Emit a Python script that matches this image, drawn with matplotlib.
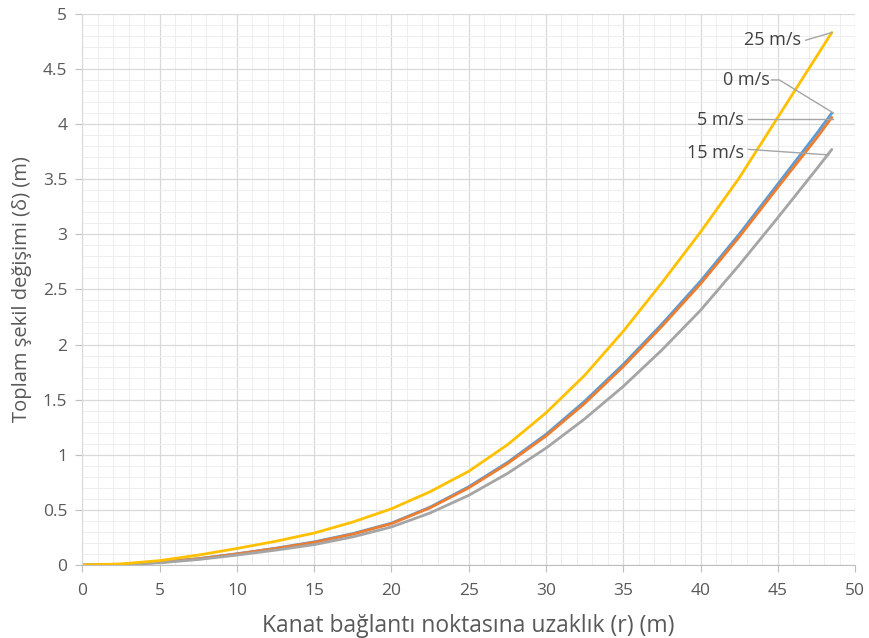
import matplotlib
matplotlib.use("Agg")
import matplotlib.pyplot as plt
from matplotlib.ticker import MultipleLocator, FuncFormatter

plt.rcParams['font.family'] = ['Open Sans', 'DejaVu Sans']

# Distance from blade root (m)
r = [0, 2.5, 5, 7.5, 10, 12.5, 15, 17.5, 20, 22.5, 25, 27.5, 30, 32.5,
     35, 37.5, 40, 42.5, 45, 47.5, 48.5]

# Total deflection (m) for each wind speed
d_0 = [0, 0.005, 0.025, 0.058, 0.102, 0.152, 0.21, 0.285, 0.38, 0.525, 0.71,
       0.93, 1.185, 1.485, 1.82, 2.185, 2.575, 3.0, 3.455, 3.91, 4.10]
d_5 = [0, 0.005, 0.024, 0.056, 0.10, 0.15, 0.205, 0.28, 0.375, 0.519, 0.70,
       0.919, 1.17, 1.465, 1.80, 2.165, 2.55, 2.975, 3.425, 3.87, 4.06]
d_15 = [0, 0.004, 0.02, 0.05, 0.09, 0.135, 0.185, 0.255, 0.345, 0.472, 0.632,
        0.83, 1.06, 1.325, 1.62, 1.95, 2.31, 2.72, 3.15, 3.59, 3.77]
d_25 = [0, 0.01, 0.04, 0.09, 0.15, 0.215, 0.29, 0.39, 0.51, 0.665, 0.85,
        1.09, 1.38, 1.72, 2.12, 2.56, 3.02, 3.51, 4.06, 4.61, 4.83]

labels = ["0 m/s", "5 m/s", "15 m/s", "25 m/s"]
colors = ["#5b9bd5", "#ed7d31", "#a5a5a5", "#ffc000"]
series = [d_0, d_5, d_15, d_25]

fig = plt.figure(figsize=(8.69, 6.38), dpi=100)
ax = fig.add_axes([0.0949, 0.1144, 0.889, 0.864])

for ys, c in zip(series, colors):
    ax.plot(r, ys, color=c, lw=2.0, solid_capstyle='round')

ax.set_xlim(0, 50)
ax.set_ylim(0, 5)
ax.xaxis.set_major_locator(MultipleLocator(5))
ax.xaxis.set_minor_locator(MultipleLocator(1))
ax.yaxis.set_major_locator(MultipleLocator(0.5))
ax.yaxis.set_minor_locator(MultipleLocator(0.1))
ax.yaxis.set_major_formatter(FuncFormatter(lambda v, p: f"{v:g}"))

ax.grid(which='major', color='#d9d9d9', lw=0.9)
ax.grid(which='minor', color='#eeeeee', lw=0.7)
ax.set_axisbelow(True)

for s in ['top', 'right']:
    ax.spines[s].set_visible(False)
ax.spines['left'].set_color('#d9d9d9')
ax.spines['bottom'].set_color('#bfbfbf')

ax.tick_params(which='major', length=5, color='#bfbfbf', labelsize=12.5,
               labelcolor='#595959')
ax.tick_params(axis='x', pad=8)
ax.tick_params(axis='y', pad=6)
ax.tick_params(which='minor', length=0)

ax.set_xlabel("Kanat bağlantı noktasına uzaklık (r) (m)", fontsize=16.5,
              color='#595959', labelpad=11)
ax.set_ylabel("Toplam şekil değişimi (δ) (m)", fontsize=14.5,
              color='#595959', labelpad=8)

# Series labels with leader lines to the blade tip
lead = dict(color='#a5a5a5', lw=1.0)
tk = dict(fontsize=13, color='#404040', va='center', ha='right')

ax.text(46.5, 4.76, "25 m/s", **tk)
ax.plot([46.8, 48.5], [4.76, 4.83], **lead)

ax.text(44.5, 4.40, "0 m/s", **tk)
ax.plot([44.6, 45.1, 48.6], [4.40, 4.40, 4.10], **lead)

ax.text(42.8, 4.04, "5 m/s", **tk)
ax.plot([43.1, 48.6], [4.05, 4.05], **lead)

ax.text(42.8, 3.74, "15 m/s", **tk)
ax.plot([43.1, 48.3], [3.77, 3.72], **lead)

fig.savefig("out.png", dpi=100)
